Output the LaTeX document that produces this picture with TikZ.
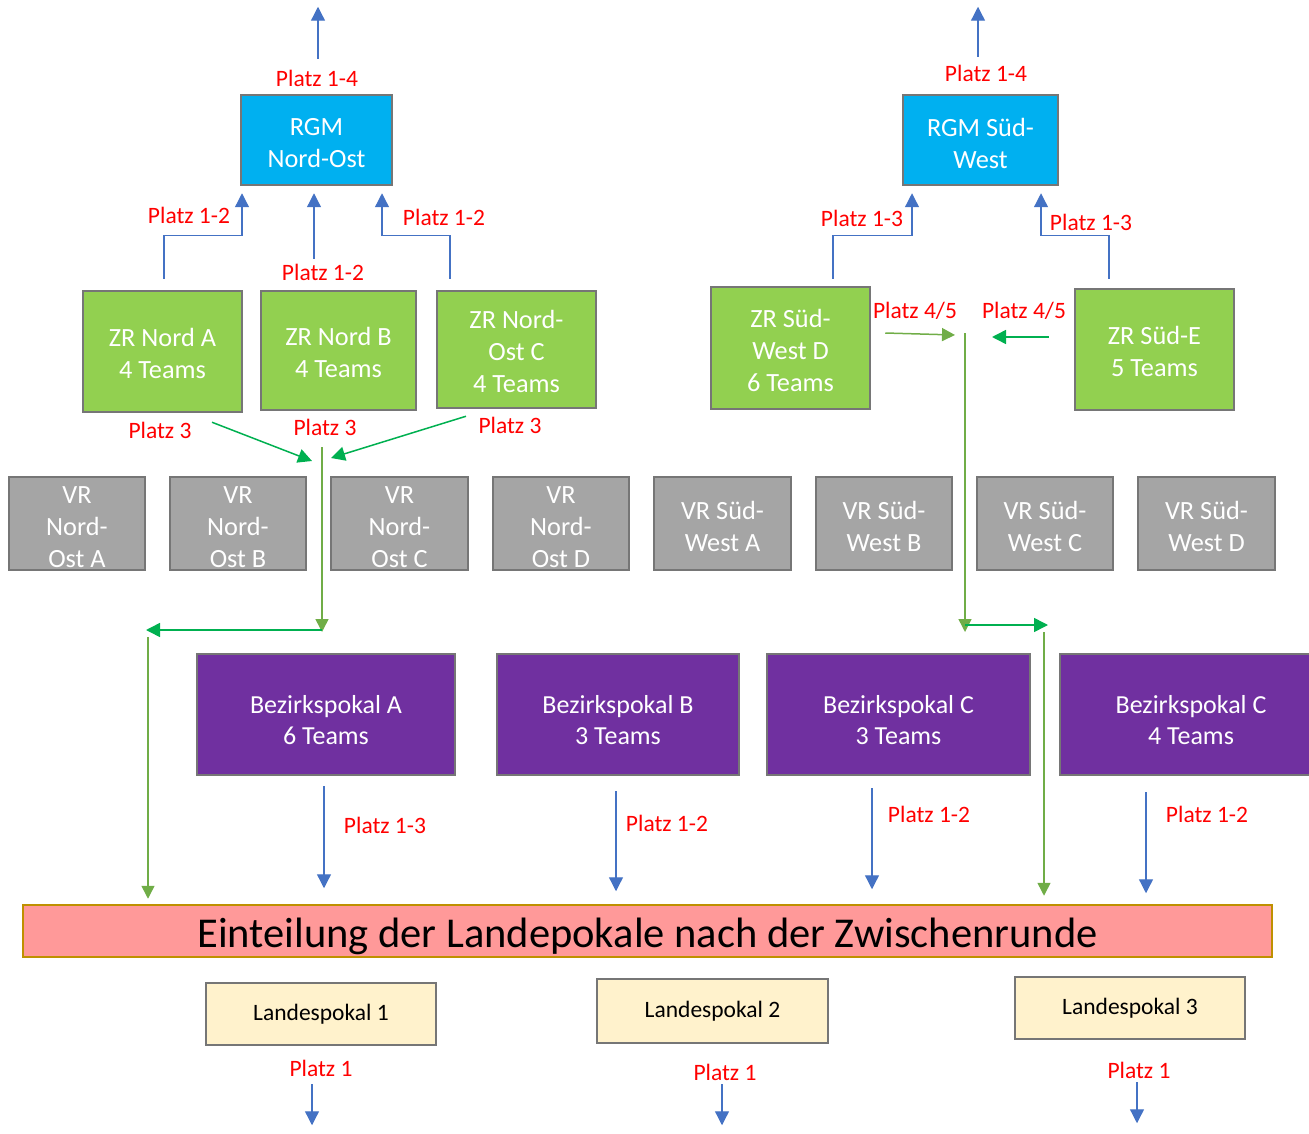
\documentclass[tikz,border=0pt]{standalone}
\usepackage{fontspec}
\setmainfont{Carlito}
\usetikzlibrary{arrows.meta}
\definecolor{rgmblue}{HTML}{00B0F0}
\definecolor{zrgreen}{HTML}{92D050}
\definecolor{vrgray}{HTML}{A5A5A5}
\definecolor{bzpurple}{HTML}{7030A0}
\definecolor{titlepink}{HTML}{FF9999}
\definecolor{titlegold}{HTML}{BF9000}
\definecolor{lpcream}{HTML}{FFF2CC}
\definecolor{boxborder}{HTML}{767676}
\definecolor{arrowblue}{HTML}{4472C4}
\definecolor{oliveline}{HTML}{70AD47}
\definecolor{brightgreen}{HTML}{00B050}
\newcommand{\liftrule}[1]{\rule{0pt}{#1}}
\tikzset{
  box/.style={draw=boxborder, line width=2.5pt, inner sep=0pt, align=center, text=white, font=\fontsize{26.3}{32}\selectfont},
  rgm/.style={box, fill=rgmblue},
  zr/.style={box, fill=zrgreen},
  vr/.style={box, fill=vrgray},
  bz/.style={box, fill=bzpurple, font=\fontsize{26}{31}\selectfont},
  lp/.style={box, fill=lpcream, text=black, font=\fontsize{23.5}{26}\selectfont},
  ttl/.style={draw=titlegold, line width=2.5pt, fill=titlepink, inner sep=0pt, font=\fontsize{42.5}{48}\selectfont},
  lbl/.style={text=red, inner sep=0pt, font=\fontsize{23.5}{26}\selectfont},
  barrow/.style={draw=arrowblue, line width=1.3pt, -{Triangle[length=14pt,width=14pt]}},
  garrow/.style={draw=oliveline, line width=1.5pt, -{Triangle[length=13pt,width=13pt]}},
  gbarrow/.style={draw=brightgreen, line width=1.5pt, -{Triangle[length=14pt,width=14pt]}},
  gline/.style={draw=oliveline, line width=1.5pt}
}
\begin{document}
\begin{tikzpicture}[x=1pt,y=-1pt]
\useasboundingbox (0,0) rectangle (1309,1134);
\clip (0,0) rectangle (1309,1134);

% RGM boxes
\node[rgm, minimum width=151pt, minimum height=90pt] (rgmNO) at (316.5,140) {\liftrule{23pt}RGM\\Nord-Ost};
\node[rgm, minimum width=155pt, minimum height=90pt] (rgmSW) at (980.5,140) {\liftrule{25pt}RGM Süd-\\West};

% ZR boxes
\node[zr, minimum width=159pt, minimum height=121pt] (zrA) at (162.5,351.5) {\liftrule{23pt}ZR Nord A\\4 Teams};
\node[zr, minimum width=155pt, minimum height=119pt] (zrB) at (338.5,350.5) {\liftrule{23pt}ZR Nord B\\4 Teams};
\node[zr, minimum width=159pt, minimum height=117pt] (zrC) at (516.5,349.5) {\liftrule{23pt}ZR Nord-\\Ost C\\4 Teams};
\node[zr, minimum width=159pt, minimum height=122pt] (zrSWD) at (790.5,348) {\liftrule{23pt}ZR Süd-\\West D\\6 Teams};
\node[zr, minimum width=159pt, minimum height=121pt] (zrSE) at (1154.5,349.5) {\liftrule{23pt}ZR Süd-E\\5 Teams};

% VR boxes
\node[vr, minimum width=136pt, minimum height=93pt] (vrNOA) at (77,523.5) {\liftrule{25pt}VR\\Nord-\\Ost A};
\node[vr, minimum width=136pt, minimum height=93pt] (vrNOB) at (238,523.5) {\liftrule{25pt}VR\\Nord-\\Ost B};
\node[vr, minimum width=137pt, minimum height=93pt] (vrNOC) at (399.5,523.5) {\liftrule{25pt}VR\\Nord-\\Ost C};
\node[vr, minimum width=136pt, minimum height=93pt] (vrNOD) at (561,523.5) {\liftrule{25pt}VR\\Nord-\\Ost D};
\node[vr, minimum width=137pt, minimum height=93pt] (vrSWA) at (722.5,523.5) {\liftrule{25pt}VR Süd-\\West A};
\node[vr, minimum width=136pt, minimum height=93pt] (vrSWB) at (884,523.5) {\liftrule{25pt}VR Süd-\\West B};
\node[vr, minimum width=136pt, minimum height=93pt] (vrSWC) at (1045,523.5) {\liftrule{25pt}VR Süd-\\West C};
\node[vr, minimum width=137pt, minimum height=93pt] (vrSWD) at (1206.5,523.5) {\liftrule{25pt}VR Süd-\\West D};

% Bezirkspokal boxes
\node[bz, minimum width=258pt, minimum height=121pt] (bzA) at (326,714.5) {\liftrule{30pt}Bezirkspokal A\\6 Teams};
\node[bz, minimum width=242pt, minimum height=121pt] (bzB) at (618,714.5) {\liftrule{30pt}Bezirkspokal B\\3 Teams};
\node[bz, minimum width=263pt, minimum height=121pt] (bzC) at (898.5,714.5) {\liftrule{30pt}Bezirkspokal C\\3 Teams};
\node[bz, minimum width=262pt, minimum height=121pt] (bzC4) at (1191,714.5) {\liftrule{30pt}Bezirkspokal C\\4 Teams};

% Title
\node[ttl, minimum width=1249pt, minimum height=52pt] (title) at (647.5,931) {\liftrule{40pt}Einteilung der Landepokale nach der Zwischenrunde};

% Landespokal boxes
\node[lp, minimum width=230pt, minimum height=62pt] (lp1) at (321,1014) {Landespokal 1};
\node[lp, minimum width=231pt, minimum height=64pt] (lp2) at (712.5,1011) {Landespokal 2};
\node[lp, minimum width=230pt, minimum height=62pt] (lp3) at (1130,1008) {Landespokal 3};

% Top arrows
\draw[barrow] ([shift={(1.5,-35)}]rgmNO.north) -- ++(0,-52);
\node[lbl] (lNO) at (317,78) {Platz 1-4};
\draw[barrow] ([shift={(-2.5,-37)}]rgmSW.north) -- ++(0,-50);
\node[lbl] (lSW) at (986,73) {Platz 1-4};

% Nord elbows
\draw[barrow] ([shift={(1.5,-11)}]zrA.north) -- ([shift={(1.5,-54)}]zrA.north) -| ([shift={(-74.5,7)}]rgmNO.south);
\node[lbl] (lA) at (189,215) {Platz 1-2};
\draw[barrow] ([shift={(-24.5,-31)}]zrB.north) -- ([shift={(-2.5,7)}]rgmNO.south);
\node[lbl] (lB) at (323,272) {Platz 1-2};
\draw[barrow] ([shift={(-66.5,-11)}]zrC.north) -- ([shift={(-66.5,-54)}]zrC.north) -| ([shift={(65.5,7)}]rgmNO.south);
\node[lbl] (lC) at (444,217) {Platz 1-2};

% Sued elbows
\draw[barrow] ([shift={(42.5,-7)}]zrSWD.north) -- ([shift={(42.5,-50)}]zrSWD.north) -| ([shift={(-68.5,7)}]rgmSW.south);
\node[lbl] (lD) at (862,218) {Platz 1-3};
\draw[barrow] ([shift={(-45.5,-9)}]zrSE.north) -- ([shift={(-45.5,-52)}]zrSE.north) -| ([shift={(60.5,7)}]rgmSW.south);
\node[lbl] (lE) at (1091,222) {Platz 1-3};

% Platz 3 merge (Nord)
\coordinate (nordMerge) at (322,447);
\coordinate (nordCorner) at (322,630);
\coordinate (nordLeft) at (146,630);
\node[lbl] (p3a) at (160,430) {Platz 3};
\node[lbl] (p3b) at (325,427) {Platz 3};
\node[lbl] (p3c) at (510,425) {Platz 3};
\draw[gbarrow] ([shift={(49.5,9)}]zrA.south) -- ([shift={(-10,14)}]nordMerge);
\draw[gbarrow] ([shift={(-50.5,7)}]zrC.south) -- ([shift={(9,11)}]nordMerge);
\draw[garrow] (nordMerge) -- ([yshift=-2pt]nordCorner);
\draw[gbarrow] (nordCorner) -- (nordLeft);
\draw[garrow] ([shift={(2,7)}]nordLeft) -- ([shift={(-499.5,-5)}]title.north);

% Platz 4/5 merge (Sued)
\coordinate (sudMerge) at (965,333);
\coordinate (sudCorner) at (965,625);
\coordinate (sudRight) at (1048,625);
\node[lbl] (p45a) at (915,311) {Platz 4/5};
\node[lbl] (p45b) at (1024,311) {Platz 4/5};
\draw[garrow] ([shift={(14,-15)}]zrSWD.east) -- ([shift={(-10,2)}]sudMerge);
\draw[gbarrow] ([shift={(-25,-12.5)}]zrSE.west) -- ([shift={(27,4)}]sudMerge);
\draw[garrow] (sudMerge) -- ([yshift=-7pt]sudCorner);
\draw[gbarrow] (sudCorner) -- (sudRight);
\draw[garrow] ([shift={(-4,7)}]sudRight) -- ([shift={(396.5,-8)}]title.north);

% Bezirkspokal down arrows
\draw[barrow] ([shift={(-2,10)}]bzA.south) -- ++(0,102);
\node[lbl] (lbzA) at (385,825) {Platz 1-3};
\draw[barrow] ([shift={(-2,15)}]bzB.south) -- ++(0,100);
\node[lbl] (lbzB) at (667,823) {Platz 1-2};
\draw[barrow] ([shift={(-26.5,12)}]bzC.south) -- ++(0,101);
\node[lbl] (lbzC) at (929,814) {Platz 1-2};
\draw[barrow] ([shift={(-45,16)}]bzC4.south) -- ++(0,101);
\node[lbl] (lbzC4) at (1207,814) {Platz 1-2};

% Landespokal arrows
\draw[barrow] ([shift={(-9,38)}]lp1.south) -- ++(0,41);
\node[lbl] (llp1) at (321,1068) {Platz 1};
\draw[barrow] ([shift={(9.5,40)}]lp2.south) -- ++(0,41);
\node[lbl] (llp2) at (725,1072) {Platz 1};
\draw[barrow] ([shift={(7,42)}]lp3.south) -- ++(0,41);
\node[lbl] (llp3) at (1139,1070) {Platz 1};
\end{tikzpicture}
\end{document}
